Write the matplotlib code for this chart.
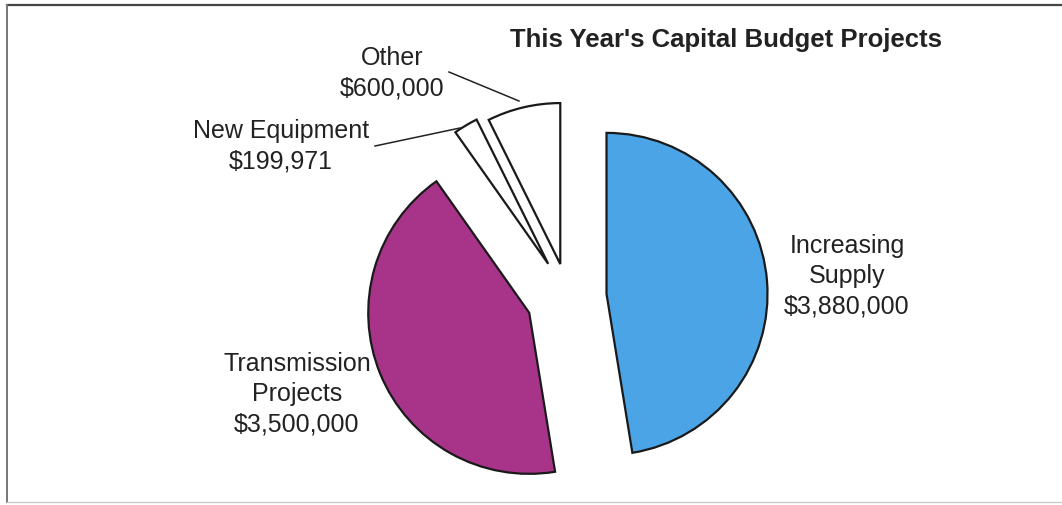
import matplotlib.pyplot as plt
from matplotlib.lines import Line2D

plt.rcParams['font.family'] = ['Liberation Sans', 'DejaVu Sans']

W, H = 1062, 505

projects = ["Increasing\nSupply", "Transmission\nProjects", "New Equipment", "Other"]
amounts = [3880000, 3500000, 199971, 600000]
colors = ["#4ba4e6", "#a8348a", "#ffffff", "#ffffff"]
pull_out = [0.24, 0.26, 0.24, 0.21]   # as a share of the radius

# where each label block sits (pixel x, pixel y of block centre) and its leader line
label_pos = [(847, 276), (297, 394), (281, 146), (392, 73)]
leaders = [None, None, ((375, 146), (460, 128)), ((449, 72), (519, 101))]

R = 161

fig = plt.figure(figsize=(W / 100, H / 100), dpi=100)
ax = fig.add_axes([0, 0, 1, 1])


def py(y):
    # screen rows count downward, axes y counts upward
    return H - y


# pie() takes explode in data units, so scale by the radius
ax.pie(amounts, colors=colors, explode=[p * R for p in pull_out], startangle=90,
       counterclock=False, radius=R, center=(568, py(297)), frame=True,
       wedgeprops=dict(edgecolor="#1a1a1a", linewidth=1.6))
ax.set_xlim(0, W)
ax.set_ylim(0, H)
ax.set_aspect("equal")
ax.axis("off")

for name, amt, (lx, ly), lead in zip(projects, amounts, label_pos, leaders):
    ax.text(lx, py(ly), f"{name}\n${amt:,}", ha="center", va="center",
            fontsize=18, color="#222222", linespacing=1.32)
    if lead:
        (x0, y0), (x1, y1) = lead
        ax.plot([x0, x1], [py(y0), py(y1)], color="#222222", lw=1.1)

ax.text(726, py(47), "This Year's Capital Budget Projects", ha="center",
        va="baseline", fontsize=18.5, fontweight="bold", color="#222222")

# page frame
fig.add_artist(Line2D([7 / W, 1], [1 - 5 / H, 1 - 5 / H], color="#444444", lw=1.6))
fig.add_artist(Line2D([7 / W, 7 / W], [1 - 5 / H, 1 - 502 / H], color="#777777", lw=1.4))
fig.add_artist(Line2D([7 / W, 1], [1 - 502 / H, 1 - 502 / H], color="#cccccc", lw=1.0))

fig.savefig("out.png", dpi=100)
